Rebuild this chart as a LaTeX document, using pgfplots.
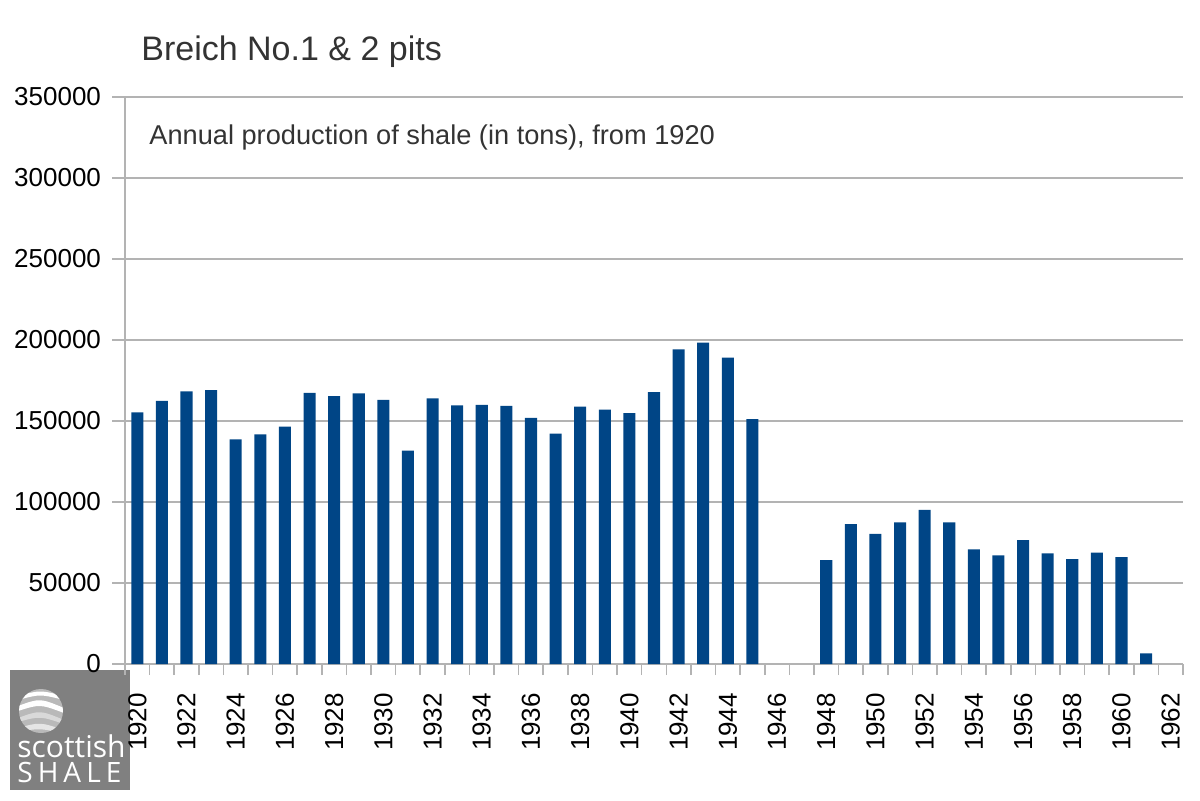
\documentclass[border=0pt]{standalone}
\usepackage{fontspec}
\setmainfont{Liberation Sans}
\newfontfamily\logofont{Open Sans}
\usepackage{pgfplots}
\pgfplotsset{compat=1.18}
\definecolor{barc}{HTML}{004586}
\definecolor{gridc}{HTML}{B3B3B3}
\definecolor{logog}{HTML}{808080}
\definecolor{titc}{HTML}{333333}

\begin{document}
\begin{tikzpicture}
\path[use as bounding box] (0,0) rectangle (600pt,400pt);
% watermark logo
\fill[logog] (5pt,5pt) rectangle (65pt,65pt);
\begin{scope}
\clip (20.5pt,44.5pt) circle (11pt);
\fill[gray!55] (9pt,33pt) rectangle (32pt,56pt);
\fill[white] (9pt,52pt) .. controls (20pt,55pt) .. (32pt,52pt) -- (32pt,50pt) .. controls (20pt,53pt) .. (9pt,50pt) -- cycle;
\fill[white] (9pt,47pt) .. controls (20pt,51pt) .. (32pt,46pt) -- (32pt,43.5pt) .. controls (20pt,48pt) .. (9pt,44.5pt) -- cycle;
\fill[gray!30] (9pt,41pt) .. controls (20pt,45pt) .. (32pt,40pt) -- (32pt,38pt) .. controls (20pt,42pt) .. (9pt,39pt) -- cycle;
\fill[gray!20] (9pt,36pt) .. controls (20pt,39pt) .. (32pt,35pt) -- (32pt,33pt) .. controls (20pt,36pt) .. (9pt,34pt) -- cycle;
\end{scope}
\node[anchor=base west, text=white, inner sep=0] at (8.5pt,21.5pt) {\logofont\fontsize{15}{15}\selectfont scottish};
\node[anchor=base west, text=white, inner sep=0] at (8.5pt,9pt) {\logofont\fontsize{14}{14}\selectfont\makebox[52pt][s]{S\hfill H\hfill A\hfill L\hfill E}};

\begin{axis}[
  at={(62.5pt,68pt)}, anchor=south west,
  scale only axis, width=529pt, height=283.5pt,
  xmin=1919.5, xmax=1962.5, ymin=0, ymax=350000,
  axis x line*=bottom, axis y line*=left,
  axis line style={gridc, line width=0.8pt},
  xtick={1920,1922,...,1962},
  minor xtick={1919.5,1920.5,...,1962.5},
  ytick={0,50000,...,350000},
  scaled y ticks=false,
  tick align=outside,
  major tick length=6.5pt,
  minor tick length=5.5pt,
  major x tick style={draw=none},
  minor x tick style={gridc, line width=0.8pt},
  major y tick style={gridc, line width=0.8pt},
  ymajorgrids,
  major grid style={gridc, line width=0.8pt},
  /pgf/number format/assume math mode=true,
  /pgf/number format/1000 sep={},
  /pgf/number format/fixed,
  tick label style={font=\fontsize{13}{15}\selectfont, text=black},
  yticklabel style={xshift=-2pt},
  xticklabel style={rotate=90, anchor=east, xshift=-4.5pt},
  clip=false,
]
\addplot[ybar, bar width=0.49, fill=barc, draw=none] coordinates {
(1920,155400) (1921,162500) (1922,168300) (1923,169100) (1924,138700)
(1925,141800) (1926,146500) (1927,167300) (1928,165400) (1929,167100)
(1930,163000) (1931,131700) (1932,164000) (1933,159600) (1934,159900)
(1935,159300) (1936,151900) (1937,142200) (1938,158800) (1939,157000)
(1940,154900) (1941,167900) (1942,194200) (1943,198400) (1944,189100)
(1945,151200)
(1948,64200) (1949,86400) (1950,80400) (1951,87400) (1952,95100)
(1953,87400) (1954,70800) (1955,67100) (1956,76500) (1957,68300)
(1958,64800) (1959,68700) (1960,65900) (1961,6600)
};
\end{axis}
\node[anchor=base west, inner sep=0, text=titc] at (70.5pt,369.5pt) {\fontsize{17}{19}\selectfont Breich No.1 \& 2 pits};
\node[anchor=base west, inner sep=0, text=titc] at (74.5pt,327.5pt) {\fontsize{13.6}{15}\selectfont Annual production of shale (in tons), from 1920};
\end{tikzpicture}
\end{document}
